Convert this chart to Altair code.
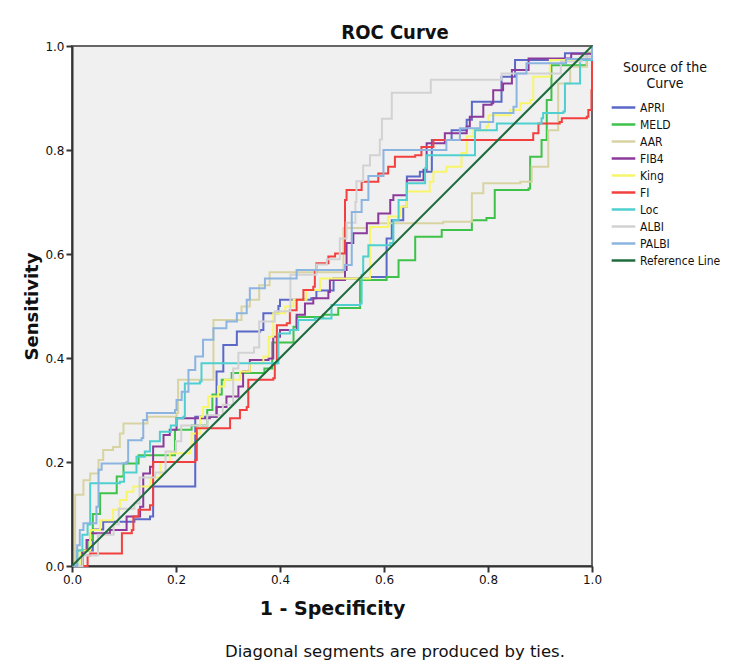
import altair as alt
import pandas as pd

# ---------------- data ----------------
APRI_x = [0, 0.02, 0.02, 0.04, 0.06, 0.12, 0.15, 0.156, 0.156, 0.23, 0.237, 0.237, 0.278, 0.278, 0.291, 0.317,
          0.362, 0.368, 0.397, 0.4, 0.46, 0.47, 0.49, 0.503, 0.573, 0.605, 0.605, 0.615, 0.637, 0.644, 0.644,
          0.669, 0.692, 0.73, 0.759, 0.769, 0.81, 0.826, 0.852, 0.948, 1.0]
APRI_y = [0, 0, 0.03, 0.07, 0.085, 0.09, 0.095, 0.098, 0.153, 0.153, 0.165, 0.287, 0.306, 0.374, 0.425, 0.451,
          0.454, 0.486, 0.5, 0.512, 0.515, 0.53, 0.53, 0.553, 0.556, 0.56, 0.63, 0.665, 0.691, 0.704, 0.749,
          0.758, 0.819, 0.838, 0.858, 0.893, 0.893, 0.941, 0.973, 0.986, 1.0]

MELD_x = [0, 0.01, 0.01, 0.03, 0.04, 0.054, 0.083, 0.086, 0.099, 0.128, 0.18, 0.198, 0.23, 0.26, 0.27, 0.288,
          0.307, 0.37, 0.385, 0.426, 0.432, 0.483, 0.512, 0.554, 0.554, 0.605, 0.628, 0.656, 0.66, 0.711, 0.769,
          0.769, 0.797, 0.813, 0.878, 0.881, 0.903, 0.913, 0.922, 0.99, 1.0]
MELD_y = [0, 0, 0.03, 0.05, 0.1, 0.14, 0.14, 0.172, 0.197, 0.213, 0.213, 0.262, 0.27, 0.3, 0.33, 0.358,
          0.371, 0.38, 0.43, 0.46, 0.479, 0.483, 0.496, 0.496, 0.55, 0.556, 0.588, 0.588, 0.633, 0.646, 0.656,
          0.665, 0.669, 0.723, 0.726, 0.787, 0.819, 0.896, 0.963, 0.987, 1.0]

AAR_x = [0, 0.006, 0.006, 0.022, 0.035, 0.051, 0.06, 0.079, 0.092, 0.099, 0.137, 0.145, 0.201, 0.204, 0.269,
         0.272, 0.297, 0.326, 0.342, 0.36, 0.38, 0.522, 0.522, 0.567, 0.714, 0.769, 0.769, 0.791, 0.862, 0.884,
         0.903, 0.916, 0.935, 0.958, 0.99, 1.0]
AAR_y = [0, 0, 0.137, 0.165, 0.178, 0.204, 0.223, 0.229, 0.255, 0.274, 0.274, 0.287, 0.294, 0.358, 0.358,
         0.473, 0.473, 0.499, 0.512, 0.54, 0.565, 0.565, 0.65, 0.659, 0.662, 0.675, 0.717, 0.736, 0.739, 0.768,
         0.768, 0.838, 0.928, 0.96, 0.986, 1.0]

FIB4_x = [0, 0.01, 0.02, 0.028, 0.035, 0.073, 0.105, 0.131, 0.137, 0.15, 0.156, 0.176, 0.188, 0.201, 0.265,
          0.278, 0.297, 0.32, 0.329, 0.342, 0.378, 0.387, 0.4, 0.432, 0.448, 0.464, 0.493, 0.496, 0.525, 0.528,
          0.541, 0.567, 0.589, 0.612, 0.618, 0.644, 0.676, 0.682, 0.717, 0.759, 0.765, 0.791, 0.807, 0.81,
          0.829, 0.846, 0.878, 0.96, 1.0]
FIB4_y = [0, 0, 0.03, 0.05, 0.063, 0.069, 0.095, 0.114, 0.178, 0.191, 0.23, 0.252, 0.262, 0.284, 0.287,
          0.306, 0.326, 0.345, 0.374, 0.396, 0.399, 0.441, 0.454, 0.483, 0.505, 0.515, 0.527, 0.55, 0.569, 0.621,
          0.64, 0.659, 0.678, 0.704, 0.713, 0.742, 0.762, 0.813, 0.832, 0.845, 0.864, 0.887, 0.89, 0.915,
          0.928, 0.954, 0.976, 0.985, 1.0]

King_x = [0, 0.01, 0.015, 0.035, 0.054, 0.079, 0.092, 0.105, 0.118, 0.15, 0.17, 0.188, 0.227, 0.23, 0.246,
          0.252, 0.262, 0.281, 0.294, 0.323, 0.342, 0.368, 0.378, 0.387, 0.41, 0.426, 0.451, 0.477, 0.573, 0.573,
          0.608, 0.631, 0.644, 0.688, 0.695, 0.72, 0.749, 0.759, 0.772, 0.797, 0.801, 0.842, 0.862, 0.881,
          0.887, 0.919, 0.977, 1.0]
King_y = [0, 0, 0.03, 0.069, 0.088, 0.108, 0.127, 0.143, 0.153, 0.17, 0.2, 0.217, 0.229, 0.255, 0.287,
          0.306, 0.326, 0.345, 0.358, 0.374, 0.39, 0.403, 0.441, 0.486, 0.499, 0.512, 0.531, 0.553, 0.56, 0.652,
          0.672, 0.691, 0.72, 0.739, 0.758, 0.768, 0.794, 0.826, 0.838, 0.845, 0.867, 0.877, 0.89, 0.896,
          0.941, 0.973, 0.973, 1.0]

FI_x = [0, 0.02, 0.03, 0.035, 0.092, 0.096, 0.115, 0.118, 0.128, 0.15, 0.156, 0.237, 0.24, 0.301, 0.304,
        0.323, 0.336, 0.339, 0.387, 0.39, 0.394, 0.413, 0.419, 0.432, 0.445, 0.464, 0.467, 0.47, 0.493, 0.506,
        0.525, 0.525, 0.528, 0.557, 0.589, 0.608, 0.621, 0.66, 0.672, 0.695, 0.874, 0.887, 0.897, 0.938, 0.942,
        0.99, 0.993, 0.999, 1.0]
FI_y = [0, 0, 0.02, 0.024, 0.024, 0.063, 0.069, 0.095, 0.108, 0.117, 0.2, 0.204, 0.265, 0.265, 0.284,
        0.3, 0.306, 0.358, 0.361, 0.39, 0.463, 0.467, 0.492, 0.512, 0.531, 0.537, 0.566, 0.582, 0.595, 0.601,
        0.601, 0.704, 0.723, 0.739, 0.755, 0.768, 0.787, 0.79, 0.806, 0.819, 0.819, 0.832, 0.851, 0.854, 0.861,
        0.864, 0.877, 0.915, 1.0]

Loc_x = [0, 0.01, 0.01, 0.02, 0.03, 0.035, 0.035, 0.092, 0.1, 0.124, 0.14, 0.15, 0.169, 0.19, 0.201, 0.214,
         0.217, 0.246, 0.249, 0.381, 0.397, 0.419, 0.435, 0.467, 0.499, 0.554, 0.557, 0.56, 0.57, 0.612, 0.618,
         0.628, 0.644, 0.679, 0.682, 0.772, 0.775, 0.817, 0.903, 0.906, 0.945, 0.948, 0.977, 0.977, 1.0]
Loc_y = [0, 0, 0.03, 0.06, 0.08, 0.095, 0.159, 0.162, 0.18, 0.21, 0.22, 0.24, 0.258, 0.27, 0.284, 0.287,
         0.351, 0.355, 0.39, 0.39, 0.447, 0.454, 0.473, 0.476, 0.502, 0.505, 0.56, 0.595, 0.617, 0.621, 0.665,
         0.704, 0.736, 0.765, 0.79, 0.79, 0.838, 0.851, 0.861, 0.871, 0.874, 0.928, 0.928, 0.973, 1.0]

ALBI_x = [0, 0.02, 0.02, 0.05, 0.05, 0.08, 0.09, 0.12, 0.13, 0.16, 0.18, 0.2, 0.21, 0.26, 0.29, 0.31, 0.32,
          0.35, 0.36, 0.39, 0.42, 0.47, 0.49, 0.515, 0.528, 0.545, 0.547, 0.56, 0.573, 0.592, 0.596, 0.615,
          0.69, 0.81, 0.826, 0.92, 0.94, 0.98, 1.0]
ALBI_y = [0, 0, 0.02, 0.02, 0.06, 0.08, 0.11, 0.12, 0.17, 0.18, 0.22, 0.24, 0.27, 0.29, 0.31, 0.38, 0.41,
          0.42, 0.47, 0.49, 0.56, 0.58, 0.59, 0.63, 0.66, 0.70, 0.74, 0.77, 0.79, 0.82, 0.86, 0.91,
          0.935, 0.935, 0.947, 0.947, 0.97, 0.98, 1.0]

PALBI_x = [0, 0.01, 0.01, 0.015, 0.022, 0.047, 0.051, 0.057, 0.105, 0.108, 0.134, 0.137, 0.144, 0.198, 0.201,
           0.211, 0.224, 0.237, 0.252, 0.272, 0.297, 0.317, 0.336, 0.342, 0.371, 0.432, 0.515, 0.525, 0.538,
           0.557, 0.57, 0.599, 0.644, 0.72, 0.746, 0.785, 0.81, 0.849, 0.855, 0.874, 0.95, 1.0]
PALBI_y = [0, 0, 0.04, 0.069, 0.082, 0.114, 0.185, 0.197, 0.2, 0.242, 0.246, 0.281, 0.294, 0.3, 0.319,
           0.335, 0.377, 0.403, 0.435, 0.457, 0.47, 0.486, 0.512, 0.534, 0.553, 0.569, 0.569, 0.579, 0.681,
           0.704, 0.75, 0.8, 0.8, 0.819, 0.842, 0.854, 0.871, 0.883, 0.947, 0.967, 0.975, 1.0]

REF_x = [0, 1]
REF_y = [0, 1]

curve_names = ["APRI", "MELD", "AAR", "FIB4", "King", "FI", "Loc", "ALBI", "PALBI", "Reference Line"]
curve_colors = ["#5a68c8", "#3ec24a", "#d8d3a2", "#8b3a9c", "#f7f56a", "#f2403f", "#4fcfcf", "#d2d2d2",
                "#8cb4e0", "#1f6b3e"]
tick_values = [0.0, 0.2, 0.4, 0.6, 0.8, 1.0]

series = {
    "APRI": (APRI_x, APRI_y), "MELD": (MELD_x, MELD_y), "AAR": (AAR_x, AAR_y), "FIB4": (FIB4_x, FIB4_y),
    "King": (King_x, King_y), "FI": (FI_x, FI_y), "Loc": (Loc_x, Loc_y), "ALBI": (ALBI_x, ALBI_y),
    "PALBI": (PALBI_x, PALBI_y),
}

rows = []
for name, (xs, ys) in series.items():
    for i, (xv, yv) in enumerate(zip(xs, ys)):
        rows.append({"curve": name, "fpr": xv, "tpr": yv, "idx": i})
df = pd.DataFrame(rows)
ref_df = pd.DataFrame({"curve": "Reference Line", "fpr": REF_x, "tpr": REF_y, "idx": [0, 1]})

FONT = "DejaVu Sans"
LFONT = "DejaVu Sans Condensed"

color = alt.Color(
    "curve:N",
    scale=alt.Scale(domain=curve_names, range=curve_colors),
    legend=alt.Legend(
        title=["Source of the", "Curve"],
        orient="none", legendX=538, legendY=15,
        titleFontSize=14, titleFontWeight="normal", titleColor="#111",
        titleAlign="center", titleAnchor="middle", titlePadding=8,
        labelFontSize=12, labelColor="#111", labelFont=LFONT, titleFont=LFONT,
        symbolType="stroke", symbolSize=560, symbolStrokeWidth=2.5,
        clipHeight=17, rowPadding=0, labelOffset=3,
    ),
)

x_enc = alt.X("fpr:Q", scale=alt.Scale(domain=[0, 1], nice=False),
              axis=alt.Axis(title="1 - Specificity", values=tick_values, format=".1f", labelFlush=False))
y_enc = alt.Y("tpr:Q", scale=alt.Scale(domain=[0, 1], nice=False),
              axis=alt.Axis(title="Sensitivity", values=tick_values, format=".1f", labelFlush=False))

curves = alt.Chart(df).mark_line(strokeWidth=2, interpolate="step-after").encode(
    x=x_enc, y=y_enc, color=color, detail="curve:N", order="idx:Q"
)
ref = alt.Chart(ref_df).mark_line(strokeWidth=2).encode(
    x="fpr:Q", y="tpr:Q", color=alt.Color("curve:N"), order="idx:Q"
)
note = alt.Chart(pd.DataFrame({"t": ["Diagonal segments are produced by ties."]})).mark_text(
    fontSize=16.5, font=FONT, color="#111", align="center", baseline="middle"
).encode(text="t:N", x=alt.value(323), y=alt.value(606))

chart = alt.layer(curves, ref, note).properties(
    width=520, height=520,
    title=alt.TitleParams("ROC Curve", fontSize=20, fontWeight="bold", font=LFONT, anchor="middle", offset=-3,
                          dx=63, color="#111"),
    padding={"left": 15, "top": 15, "right": 5, "bottom": 5},
).configure_view(
    fill="#f0f0f0", stroke="#666", strokeWidth=2
).configure_axis(
    grid=False, labelFontSize=12, labelFont=FONT, labelColor="#111",
    titleFont=FONT, titleFontSize=18, titleFontWeight="bold", titleColor="#111",
    domainColor="#333", domainWidth=2, tickColor="#333", tickWidth=2, tickSize=6,
).configure_axisX(titlePadding=14, titleFontSize=19).configure_axisY(titlePadding=3)

chart.save("out.html", embed_options={"renderer": "svg", "actions": False})
